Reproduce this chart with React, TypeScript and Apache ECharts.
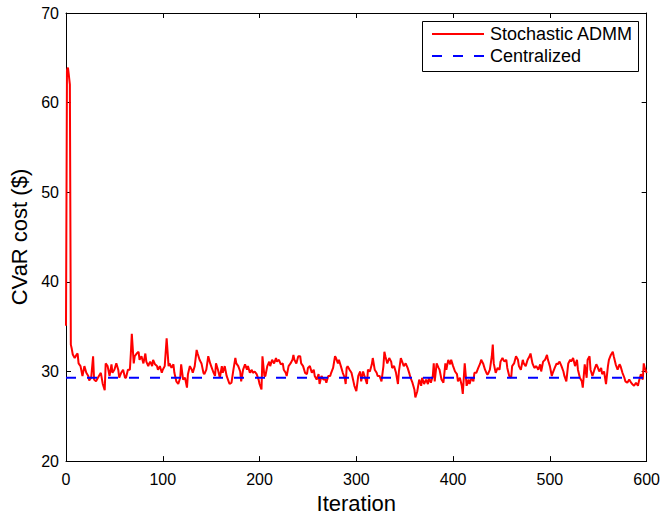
import React, { useEffect, useRef } from "react";
import * as echarts from "echarts";

// Stochastic ADMM CVaR cost, [iteration, cost ($)] in blocks
const admmIter0to100: [number, number][] = [
  [0, 35.1], [1, 63.6], [2, 63.9], [3, 63.0], [4, 62.0], [5, 33.0], [6, 32.5], [7, 31.9], [9, 31.5], [11, 31.9],
  [12, 32.0], [13, 30.9], [15, 30.6], [17, 29.5], [19, 30.6], [21, 29.85], [23, 29.5], [24, 29.0], [26, 29.3], [28, 31.7],
  [29, 29.1], [31, 28.9], [33, 29.3], [34, 29.5], [36, 29.85], [38, 28.6], [40, 27.9], [41, 30.9], [43, 30.6], [45, 29.5],
  [47, 30.8], [48, 29.85], [50, 30.2], [52, 30.9], [54, 30.2], [55, 29.3], [57, 29.85], [59, 30.2], [61, 29.3], [62, 29.3],
  [64, 30.2], [66, 30.2], [67, 32.0], [68, 34.2], [70, 30.9], [71, 31.7], [73, 32.0], [75, 32.2], [76, 31.3], [78, 31.7],
  [80, 30.9], [82, 32.0], [83, 31.1], [85, 30.6], [86, 30.9], [87, 31.1], [89, 30.6], [90, 31.3], [92, 30.8], [94, 30.6],
  [95, 30.2], [97, 30.6], [99, 29.85],
];
const admmIter100to200: [number, number][] = [
  [100, 30.2], [102, 30.6], [104, 33.7], [106, 30.6], [107, 30.9], [109, 30.4], [111, 30.8], [112, 29.85], [114, 28.9], [116, 28.6],
  [118, 29.3], [119, 30.8], [121, 29.1], [123, 29.3], [125, 28.2], [126, 29.7], [128, 30.6], [130, 30.2], [131, 29.85], [133, 30.6],
  [135, 32.4], [136, 32.0], [138, 31.3], [140, 30.9], [142, 29.85], [143, 29.7], [145, 30.2], [147, 31.7], [149, 30.9], [150, 30.6],
  [152, 30.0], [154, 29.5], [155, 30.9], [157, 30.2], [159, 29.3], [161, 30.6], [162, 29.85], [164, 30.6], [166, 29.5], [168, 28.9],
  [169, 28.6], [171, 28.75], [173, 30.2], [175, 31.5], [176, 30.9], [178, 30.6], [180, 30.0], [181, 28.9], [183, 30.2], [185, 30.8],
  [187, 30.2], [188, 30.6], [190, 29.85], [192, 30.2], [193, 29.85], [195, 30.0], [197, 29.7], [199, 29.1],
];
const admmIter200to300: [number, number][] = [
  [200, 28.6], [202, 28.0], [203, 31.7], [205, 29.5], [206, 29.5], [208, 30.6], [210, 31.1], [211, 30.6], [213, 31.3], [215, 30.9],
  [217, 31.5], [218, 31.1], [220, 31.3], [222, 30.8], [224, 30.9], [225, 30.2], [227, 29.85], [228, 29.5], [230, 30.6], [232, 30.9],
  [234, 31.3], [235, 31.85], [236, 31.3], [238, 30.9], [240, 31.7], [242, 31.7], [243, 30.9], [245, 30.6], [247, 29.85], [249, 29.7],
  [250, 30.4], [252, 30.6], [254, 29.85], [256, 30.2], [257, 29.5], [259, 29.1], [261, 29.7], [262, 28.6], [264, 29.5], [266, 29.1],
  [268, 29.1], [269, 28.75], [271, 29.5], [273, 29.5], [274, 29.85], [276, 30.4], [278, 31.7], [279, 31.5], [281, 30.9], [282, 31.3],
  [284, 30.6], [286, 29.85], [288, 29.3], [289, 28.6], [290, 30.4], [291, 30.6], [293, 30.2], [295, 29.85], [297, 28.9], [298, 28.4],
];
const admmIter300to400: [number, number][] = [
  [300, 27.8], [302, 29.5], [304, 30.0], [305, 28.9], [307, 30.0], [309, 29.3], [311, 28.6], [312, 30.2], [314, 30.0], [316, 30.8],
  [317, 31.5], [319, 30.2], [321, 29.85], [322, 29.5], [324, 29.5], [326, 28.9], [328, 30.6], [329, 32.2], [330, 31.7], [332, 30.9],
  [334, 31.5], [336, 31.1], [337, 30.4], [339, 30.6], [341, 29.85], [343, 28.6], [344, 30.0], [346, 31.5], [348, 30.9], [349, 30.6],
  [351, 30.9], [353, 30.4], [355, 29.7], [356, 29.3], [358, 28.75], [360, 28.0], [361, 27.1], [363, 27.8], [365, 29.1], [367, 28.4],
  [368, 29.3], [370, 28.6], [372, 29.1], [374, 28.6], [375, 29.3], [377, 28.75], [379, 29.5], [380, 30.9], [381, 28.9], [383, 30.9],
  [385, 30.4], [386, 30.2], [388, 29.1], [390, 28.75], [392, 30.9], [393, 30.2], [395, 31.3], [397, 30.8], [398, 31.3],
];
const admmIter400to500: [number, number][] = [
  [400, 30.6], [402, 30.0], [404, 29.7], [405, 28.9], [407, 29.3], [409, 28.4], [410, 27.5], [412, 30.9], [414, 28.4], [416, 29.1],
  [417, 28.6], [419, 29.3], [421, 28.9], [422, 29.85], [424, 29.85], [426, 30.4], [428, 30.9], [429, 31.3], [431, 30.9], [433, 30.2],
  [435, 29.7], [436, 29.7], [438, 30.2], [440, 31.7], [441, 33.0], [442, 30.9], [444, 29.85], [446, 30.4], [448, 30.2], [449, 31.1],
  [451, 31.5], [453, 31.1], [455, 31.3], [456, 30.4], [458, 29.5], [460, 29.3], [461, 30.6], [463, 30.9], [465, 31.7], [467, 31.3],
  [468, 30.6], [470, 30.2], [472, 31.3], [473, 30.9], [475, 30.6], [477, 31.3], [479, 31.7], [480, 32.0], [482, 30.9], [484, 30.4],
  [486, 30.6], [488, 30.2], [490, 30.8], [491, 30.0], [493, 31.1], [495, 31.3], [497, 31.85], [498, 31.3],
];
const admmIter500to600: [number, number][] = [
  [500, 30.6], [502, 29.5], [503, 29.85], [505, 30.4], [507, 30.9], [508, 30.8], [510, 31.1], [512, 30.6], [514, 30.0], [515, 29.5],
  [517, 28.9], [519, 30.9], [521, 31.3], [522, 31.1], [524, 31.5], [526, 30.6], [528, 31.3], [529, 30.2], [531, 29.3], [533, 28.9],
  [534, 28.2], [536, 30.8], [538, 29.3], [539, 31.3], [541, 31.7], [542, 30.2], [544, 29.5], [546, 30.2], [548, 30.8], [549, 30.6],
  [551, 30.0], [553, 30.4], [554, 29.7], [556, 30.0], [558, 28.6], [560, 30.6], [561, 31.3], [563, 31.85], [565, 32.2], [566, 31.7],
  [568, 30.8], [570, 30.2], [572, 30.8], [573, 30.6], [575, 29.85], [577, 29.3], [578, 28.9], [580, 28.75], [582, 29.1], [584, 28.75],
  [585, 28.6], [587, 28.4], [589, 28.75], [591, 28.4], [592, 28.9], [594, 29.7], [596, 29.1], [597, 30.9], [598, 30.4], [600, 29.85],
];

// Centralized solution cost (constant) over the iteration range
const centralizedIterRange = [0, 600];
const centralizedCost = 29.3;

const seriesNames = ["Stochastic ADMM", "Centralized"];
const seriesColors = ["#ff0000", "#0000ff"];
const xAxisName = "Iteration";
const yAxisName = "CVaR cost ($)";

const FONT = "'Liberation Sans', Arial, Helvetica, sans-serif";
const DASH = [10, 11];

export default function App() {
  const ref = useRef<HTMLDivElement>(null);

  useEffect(() => {
    if (!ref.current) return;
    const chart = echarts.init(ref.current, null, { renderer: "svg" });

    const admmData = [
      ...admmIter0to100,
      ...admmIter100to200,
      ...admmIter200to300,
      ...admmIter300to400,
      ...admmIter400to500,
      ...admmIter500to600,
    ];
    const centralizedData = centralizedIterRange.map((it) => [it, centralizedCost]);

    const axisLine = { show: true, onZero: false, lineStyle: { color: "#000", width: 1 } };
    const axisTick = { show: true, inside: true, length: 5, lineStyle: { color: "#000", width: 1 } };

    // Legend box (MATLAB style), drawn as graphic elements
    const legendBox = { x: 422.5, y: 21.5, w: 216, h: 50 };
    const legendRows = [34, 56];
    const legendGraphic: any[] = [
      {
        type: "rect",
        shape: { x: legendBox.x, y: legendBox.y, width: legendBox.w, height: legendBox.h },
        style: { fill: "#fff", stroke: "#000", lineWidth: 1 },
        z: 100,
      },
    ];
    seriesNames.forEach((name, i) => {
      legendGraphic.push({
        type: "line",
        shape: { x1: 432, y1: legendRows[i], x2: 484, y2: legendRows[i] },
        style: { stroke: seriesColors[i], lineWidth: 2, lineDash: i === 1 ? DASH : null },
        z: 101,
      });
      legendGraphic.push({
        type: "text",
        x: 490,
        y: legendRows[i],
        style: {
          text: name,
          fontSize: 18,
          fontFamily: FONT,
          fill: "#000",
          verticalAlign: "middle",
          align: "left",
        },
        z: 101,
      });
    });

    chart.setOption({
      animation: false,
      backgroundColor: "#fff",
      textStyle: { fontFamily: FONT },
      grid: { left: 66, right: 16, top: 13, bottom: 48, containLabel: false },
      graphic: legendGraphic,
      xAxis: [
        {
          type: "value",
          position: "bottom",
          min: 0,
          max: 600,
          interval: 100,
          axisLine,
          axisTick,
          splitLine: { show: false },
          axisLabel: { color: "#000", fontSize: 16, margin: 10, fontFamily: FONT },
          name: xAxisName,
          nameLocation: "middle",
          nameGap: 29,
          nameTextStyle: { fontSize: 22, color: "#000", fontFamily: FONT },
        },
        {
          type: "value",
          position: "top",
          min: 0,
          max: 600,
          interval: 100,
          axisLine,
          axisTick,
          splitLine: { show: false },
          axisLabel: { show: false },
        },
      ],
      yAxis: [
        {
          type: "value",
          position: "left",
          min: 20,
          max: 70,
          interval: 10,
          axisLine,
          axisTick,
          splitLine: { show: false },
          axisLabel: { color: "#000", fontSize: 16, margin: 7, fontFamily: FONT },
          name: yAxisName,
          nameLocation: "middle",
          nameGap: 35,
          nameRotate: 90,
          nameTextStyle: { fontSize: 22, color: "#000", fontFamily: FONT },
        },
        {
          type: "value",
          position: "right",
          min: 20,
          max: 70,
          interval: 10,
          axisLine,
          axisTick,
          splitLine: { show: false },
          axisLabel: { show: false },
        },
      ],
      series: [
        {
          name: seriesNames[0],
          type: "line",
          xAxisIndex: 0,
          yAxisIndex: 0,
          data: admmData,
          symbol: "none",
          color: seriesColors[0],
          lineStyle: { color: seriesColors[0], width: 2 },
          z: 2,
        },
        {
          name: seriesNames[1],
          type: "line",
          xAxisIndex: 0,
          yAxisIndex: 0,
          data: centralizedData,
          symbol: "none",
          color: seriesColors[1],
          lineStyle: { color: seriesColors[1], width: 2, type: DASH },
          z: 3,
        },
      ],
    });

    return () => chart.dispose();
  }, []);

  return (
    <div
      ref={ref}
      style={{ position: "fixed", left: 0, top: 0, width: 663, height: 519, background: "#fff" }}
    />
  );
}
